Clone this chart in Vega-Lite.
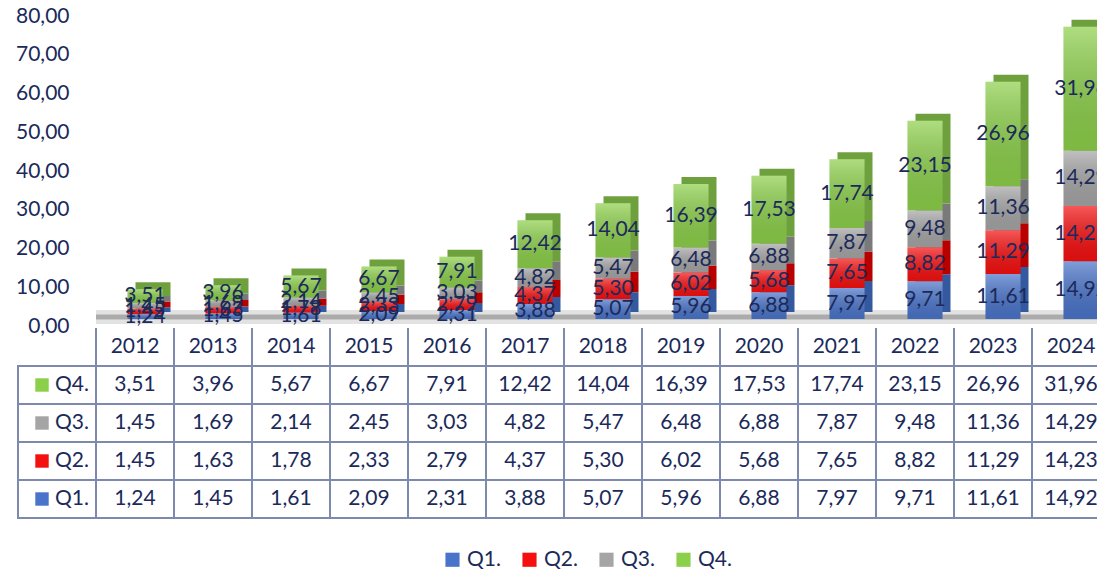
{
  "$schema": "https://vega.github.io/schema/vega-lite/v6.json",
  "padding": {"left": 15, "top": 5, "right": 0, "bottom": 0},
  "background": "white",
  "config": {
    "locale": {"number": {"decimal": ",", "thousands": ".", "grouping": [3], "currency": ["", ""]}},
    "font": "Lato",
    "view": {"stroke": null},
    "axisY": {"labelOverlap": false, "labelSeparation": 0, "labelFlush": false}
  },
  "spacing": 2,
  "bounds": "flush",
  "data": {"values": [
    {"year": "2012", "q": "Q1.", "v": 1.24}, {"year": "2012", "q": "Q2.", "v": 1.45}, {"year": "2012", "q": "Q3.", "v": 1.45}, {"year": "2012", "q": "Q4.", "v": 3.51},
    {"year": "2013", "q": "Q1.", "v": 1.45}, {"year": "2013", "q": "Q2.", "v": 1.63}, {"year": "2013", "q": "Q3.", "v": 1.69}, {"year": "2013", "q": "Q4.", "v": 3.96},
    {"year": "2014", "q": "Q1.", "v": 1.61}, {"year": "2014", "q": "Q2.", "v": 1.78}, {"year": "2014", "q": "Q3.", "v": 2.14}, {"year": "2014", "q": "Q4.", "v": 5.67},
    {"year": "2015", "q": "Q1.", "v": 2.09}, {"year": "2015", "q": "Q2.", "v": 2.33}, {"year": "2015", "q": "Q3.", "v": 2.45}, {"year": "2015", "q": "Q4.", "v": 6.67},
    {"year": "2016", "q": "Q1.", "v": 2.31}, {"year": "2016", "q": "Q2.", "v": 2.79}, {"year": "2016", "q": "Q3.", "v": 3.03}, {"year": "2016", "q": "Q4.", "v": 7.91},
    {"year": "2017", "q": "Q1.", "v": 3.88}, {"year": "2017", "q": "Q2.", "v": 4.37}, {"year": "2017", "q": "Q3.", "v": 4.82}, {"year": "2017", "q": "Q4.", "v": 12.42},
    {"year": "2018", "q": "Q1.", "v": 5.07}, {"year": "2018", "q": "Q2.", "v": 5.30}, {"year": "2018", "q": "Q3.", "v": 5.47}, {"year": "2018", "q": "Q4.", "v": 14.04},
    {"year": "2019", "q": "Q1.", "v": 5.96}, {"year": "2019", "q": "Q2.", "v": 6.02}, {"year": "2019", "q": "Q3.", "v": 6.48}, {"year": "2019", "q": "Q4.", "v": 16.39},
    {"year": "2020", "q": "Q1.", "v": 6.88}, {"year": "2020", "q": "Q2.", "v": 5.68}, {"year": "2020", "q": "Q3.", "v": 6.88}, {"year": "2020", "q": "Q4.", "v": 17.53},
    {"year": "2021", "q": "Q1.", "v": 7.97}, {"year": "2021", "q": "Q2.", "v": 7.65}, {"year": "2021", "q": "Q3.", "v": 7.87}, {"year": "2021", "q": "Q4.", "v": 17.74},
    {"year": "2022", "q": "Q1.", "v": 9.71}, {"year": "2022", "q": "Q2.", "v": 8.82}, {"year": "2022", "q": "Q3.", "v": 9.48}, {"year": "2022", "q": "Q4.", "v": 23.15},
    {"year": "2023", "q": "Q1.", "v": 11.61}, {"year": "2023", "q": "Q2.", "v": 11.29}, {"year": "2023", "q": "Q3.", "v": 11.36}, {"year": "2023", "q": "Q4.", "v": 26.96},
    {"year": "2024", "q": "Q1.", "v": 14.92}, {"year": "2024", "q": "Q2.", "v": 14.23}, {"year": "2024", "q": "Q3.", "v": 14.29}, {"year": "2024", "q": "Q4.", "v": 31.96}
  ]},
  "vconcat": [
    {
      "width": 1092,
      "height": 310,
      "transform": [
        {"stack": "v", "groupby": ["year"], "sort": [{"field": "q", "order": "ascending"}], "as": ["y0", "y1"]},
        {"calculate": "(datum.y0 + datum.y1) / 2", "as": "ym"}
      ],
      "encoding": {
        "x": {"field": "year", "type": "nominal",
              "scale": {"domain": ["H", "2012", "2013", "2014", "2015", "2016", "2017", "2018", "2019", "2020", "2021", "2022", "2023", "2024"], "paddingInner": 0, "paddingOuter": 0},
              "axis": null}
      },
      "layer": [
        {
          "transform": [{"filter": "datum.q === 'Q1.'"}],
          "mark": {"type": "tick", "thickness": 14, "size": 78, "color": "#7a7a7a", "opacity": 0.22, "yOffset": -9},
          "encoding": {
            "y": {"datum": 0, "type": "quantitative", "scale": {"domain": [0, 80], "nice": false},
                  "axis": {"values": [0, 10, 20, 30, 40, 50, 60, 70, 80], "tickCount": 9, "format": ".2f", "labelFontSize": 21, "labelColor": "#1B2A5A", "labelFont": "Lato", "labelOverlap": false, "labelSeparation": 0, "labelFlush": false, "domain": false, "ticks": false, "grid": false, "title": null, "offset": -59, "labelPadding": 8}}
          }
        },
        {
          "transform": [{"filter": "datum.q === 'Q1.'"}],
          "mark": {"type": "tick", "thickness": 5, "size": 78, "color": "#444444", "opacity": 0.35, "yOffset": -9},
          "encoding": {"y": {"datum": 0, "type": "quantitative"}}
        },
        {
          "mark": {"type": "bar", "width": 35, "xOffset": 18, "yOffset": -14, "y2Offset": -14},
          "encoding": {
            "y": {"field": "y0", "type": "quantitative"},
            "y2": {"field": "y1"},
            "fill": {"condition": [
                       {"test": "datum.q === 'Q1.'", "value": "#34599E"},
                       {"test": "datum.q === 'Q2.'", "value": "#B80000"},
                       {"test": "datum.q === 'Q3.'", "value": "#7A7A7A"}],
                     "value": "#6FA03E"}
          }
        },
        {
          "mark": {"type": "bar", "width": 35, "xOffset": 10, "yOffset": -7, "y2Offset": -7},
          "encoding": {
            "y": {"field": "y0", "type": "quantitative"},
            "y2": {"field": "y1"},
            "color": {"field": "q", "type": "nominal",
                      "scale": {"domain": ["Q1.", "Q2.", "Q3.", "Q4."], "range": ["#4A74C9", "#F51010", "#A5A5A5", "#8CCF4A"]},
                      "legend": {"orient": "none", "legendX": 424, "legendY": 533, "direction": "horizontal", "title": null, "symbolType": "square", "symbolSize": 200, "symbolStrokeWidth": 0, "labelFontSize": 21, "labelColor": "#1B2A5A", "labelFont": "Lato", "columnPadding": 18}}
          }
        },
        {
          "mark": {"type": "bar", "width": 35, "xOffset": 10, "yOffset": -7, "y2Offset": -7,
                   "fill": {"gradient": "linear", "x1": 0, "y1": 0, "x2": 0, "y2": 1,
                            "stops": [{"offset": 0, "color": "rgba(255,255,255,0.30)"}, {"offset": 1, "color": "rgba(0,0,0,0.10)"}]}},
          "encoding": {
            "y": {"field": "y0", "type": "quantitative"},
            "y2": {"field": "y1"}
          }
        },
        {
          "mark": {"type": "text", "xOffset": 10, "yOffset": -7, "fontSize": 21, "color": "#1B2A5A", "font": "Lato"},
          "encoding": {
            "y": {"field": "ym", "type": "quantitative"},
            "text": {"field": "v", "type": "quantitative", "format": ".2f"}
          }
        }
      ]
    },
    {
      "width": 1092,
      "height": 190,
      "encoding": {
        "x": {"field": "year", "type": "nominal",
              "scale": {"domain": ["H", "2012", "2013", "2014", "2015", "2016", "2017", "2018", "2019", "2020", "2021", "2022", "2023", "2024"], "paddingInner": 0, "paddingOuter": 0},
              "axis": null}
      },
      "layer": [
        {
          "transform": [{"filter": "datum.q === 'Q1.'"}],
          "mark": {"type": "rule", "color": "#7D8AAE", "strokeWidth": 2},
          "encoding": {"x": {"field": "year", "type": "nominal", "bandPosition": 0}}
        },
        {
          "mark": {"type": "rect", "fill": "white", "stroke": "#7D8AAE", "strokeWidth": 2},
          "encoding": {
            "y": {"field": "q", "type": "nominal",
                  "scale": {"domain": ["Year", "Q4.", "Q3.", "Q2.", "Q1."], "paddingInner": 0, "paddingOuter": 0},
                  "axis": null}
          }
        },
        {
          "transform": [{"filter": "datum.year === '2012'"}],
          "mark": {"type": "rect", "fill": "white", "stroke": "#7D8AAE", "strokeWidth": 2},
          "encoding": {
            "x": {"datum": "H"},
            "y": {"field": "q", "type": "nominal"}
          }
        },
        {
          "transform": [{"filter": "datum.q === 'Q1.'"}],
          "mark": {"type": "text", "fontSize": 21, "color": "#1B2A5A", "font": "Lato"},
          "encoding": {
            "y": {"datum": "Year"},
            "text": {"field": "year", "type": "nominal"}
          }
        },
        {
          "mark": {"type": "text", "fontSize": 21, "color": "#1B2A5A", "font": "Lato"},
          "encoding": {
            "y": {"field": "q", "type": "nominal"},
            "text": {"field": "v", "type": "quantitative", "format": ".2f"}
          }
        },
        {
          "transform": [{"filter": "datum.year === '2012'"}],
          "mark": {"type": "point", "shape": "square", "filled": true, "size": 180, "opacity": 1, "xOffset": -15},
          "encoding": {
            "x": {"datum": "H"},
            "y": {"field": "q", "type": "nominal"},
            "color": {"field": "q", "type": "nominal",
                      "scale": {"domain": ["Q1.", "Q2.", "Q3.", "Q4."], "range": ["#4A74C9", "#F51010", "#A5A5A5", "#8CCF4A"]},
                      "legend": {"orient": "none", "legendX": 424, "legendY": 533, "direction": "horizontal", "title": null, "symbolType": "square", "symbolSize": 200, "symbolStrokeWidth": 0, "labelFontSize": 21, "labelColor": "#1B2A5A", "labelFont": "Lato", "columnPadding": 18}}
          }
        },
        {
          "transform": [{"filter": "datum.year === '2012'"}],
          "mark": {"type": "text", "fontSize": 21, "color": "#1B2A5A", "font": "Lato", "align": "left", "xOffset": -2},
          "encoding": {
            "x": {"datum": "H"},
            "y": {"field": "q", "type": "nominal"},
            "text": {"field": "q", "type": "nominal"}
          }
        }
      ]
    }
  ]
}
